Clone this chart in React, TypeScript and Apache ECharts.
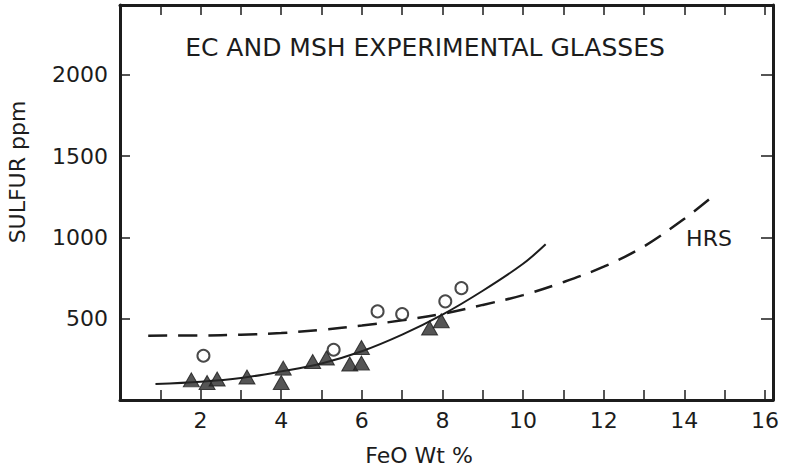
import React, { useEffect, useRef } from "react";
import * as echarts from "echarts";

// Filled triangles (experimental glasses)
const feoTri = [1.77, 2.16, 2.41, 3.15, 4.05, 4.0, 4.78, 5.12, 5.7, 5.99, 5.99, 7.68, 7.97];
const sulfurTri = [124, 108, 129, 141, 196, 108, 237, 258, 221, 227, 323, 443, 488];
// Open circles
const feoCirc = [2.07, 5.3, 6.39, 7.0, 8.07, 8.47];
const sulfurCirc = [272, 309, 545, 529, 607, 688];
// Solid fitted curve
const fitFeo = [0.88, 2, 3, 4, 5, 6, 7, 8, 9, 10, 10.56];
const fitSulfur = [98, 112, 135, 176, 225, 300, 402, 525, 672, 838, 958];
// Dashed HRS curve
const hrsFeo = [0.7, 2, 3, 4, 5, 6, 7, 8, 9, 10, 11, 12, 13, 14, 14.73];
const hrsSulfur = [396, 397, 402, 412, 432, 458, 490, 530, 585, 645, 725, 820, 945, 1115, 1258];

const xTickLabels = ["2", "4", "6", "8", "10", "12", "14", "16"];
const yTickLabels = ["500", "1000", "1500", "2000"];

const INK = "#1c1c1c";
const FONT = "DejaVu Sans";

const zip = (xs: number[], ys: number[]) => xs.map((x, i) => [x, ys[i]]);

export default function App() {
  const ref = useRef<HTMLDivElement>(null);
  useEffect(() => {
    if (!ref.current) return;
    const chart = echarts.init(ref.current, null, { renderer: "svg" });
    const axisLine = { show: true, onZero: false, lineStyle: { color: INK, width: 3 } };
    const tick = { show: true, inside: true, length: 10, lineStyle: { color: INK, width: 1.5 } };
    chart.setOption({
      animation: false,
      backgroundColor: "#ffffff",
      grid: { left: 120, right: 15, top: 5, bottom: 70, containLabel: false },
      xAxis: [
        {
          type: "value",
          min: 0,
          max: 16.2,
          interval: 1,
          position: "bottom",
          axisLine,
          axisTick: tick,
          splitLine: { show: false },
          axisLabel: {
            color: INK,
            fontFamily: FONT,
            fontSize: 22,
            margin: 9,
            showMaxLabel: true,
            formatter: (v: number) => {
              const s = String(Math.round(v));
              return Math.abs(v - Math.round(v)) < 1e-6 && xTickLabels.includes(s) ? s : "";
            },
          },
        },
        {
          type: "value",
          min: 0,
          max: 16.2,
          interval: 1,
          position: "top",
          axisLine,
          axisTick: tick,
          splitLine: { show: false },
          axisLabel: { show: false },
        },
      ],
      yAxis: [
        {
          type: "value",
          min: 0,
          max: 2430,
          interval: 500,
          position: "left",
          axisLine,
          axisTick: tick,
          splitLine: { show: false },
          axisLabel: {
            color: INK,
            fontFamily: FONT,
            fontSize: 22,
            margin: 12,
            formatter: (v: number) => {
              const s = String(Math.round(v));
              return yTickLabels.includes(s) && Math.abs(v - Math.round(v)) < 1e-6 ? s : "";
            },
          },
        },
        {
          type: "value",
          min: 0,
          max: 2430,
          interval: 500,
          position: "right",
          axisLine,
          axisTick: { ...tick, length: 12 },
          splitLine: { show: false },
          axisLabel: { show: false },
        },
      ],
      graphic: [
        {
          type: "text",
          x: 425,
          y: 47,
          style: {
            text: "EC AND MSH EXPERIMENTAL GLASSES",
            fill: INK,
            font: `25px '${FONT}'`,
            align: "center",
            verticalAlign: "middle",
          },
        },
        {
          type: "text",
          x: 709,
          y: 238,
          style: {
            text: "HRS",
            fill: INK,
            font: `22px '${FONT}'`,
            align: "center",
            verticalAlign: "middle",
          },
        },
        {
          type: "text",
          x: 419,
          y: 455,
          style: {
            text: "FeO Wt %",
            fill: INK,
            font: `22px '${FONT}'`,
            align: "center",
            verticalAlign: "middle",
          },
        },
        {
          type: "text",
          x: 17,
          y: 172,
          rotation: Math.PI / 2,
          style: {
            text: "SULFUR ppm",
            fill: INK,
            font: `22px '${FONT}'`,
            align: "center",
            verticalAlign: "middle",
          },
        },
      ],
      series: [
        {
          type: "line",
          name: "HRS",
          xAxisIndex: 0,
          yAxisIndex: 0,
          data: zip(hrsFeo, hrsSulfur),
          smooth: 0.35,
          showSymbol: false,
          lineStyle: { color: INK, width: 2.5, type: [19, 11] },
          z: 2,
        },
        {
          type: "line",
          name: "fit",
          xAxisIndex: 0,
          yAxisIndex: 0,
          data: zip(fitFeo, fitSulfur),
          smooth: 0.35,
          showSymbol: false,
          lineStyle: { color: INK, width: 2 },
          z: 2,
        },
        {
          type: "scatter",
          name: "glasses",
          xAxisIndex: 0,
          yAxisIndex: 0,
          data: zip(feoTri, sulfurTri),
          symbol: "triangle",
          symbolSize: [16, 14],
          itemStyle: { color: "#2a2a2a", borderColor: INK, borderWidth: 1 },
          z: 3,
        },
        {
          type: "scatter",
          name: "open",
          xAxisIndex: 0,
          yAxisIndex: 0,
          data: zip(feoCirc, sulfurCirc),
          symbol: "circle",
          symbolSize: 12,
          itemStyle: { color: "#ffffff", borderColor: INK, borderWidth: 2 },
          z: 4,
        },
      ],
    });
    return () => chart.dispose();
  }, []);
  return (
    <div
      ref={ref}
      style={{ position: "fixed", left: 0, top: 0, width: 788, height: 470, background: "#fff" }}
    />
  );
}
